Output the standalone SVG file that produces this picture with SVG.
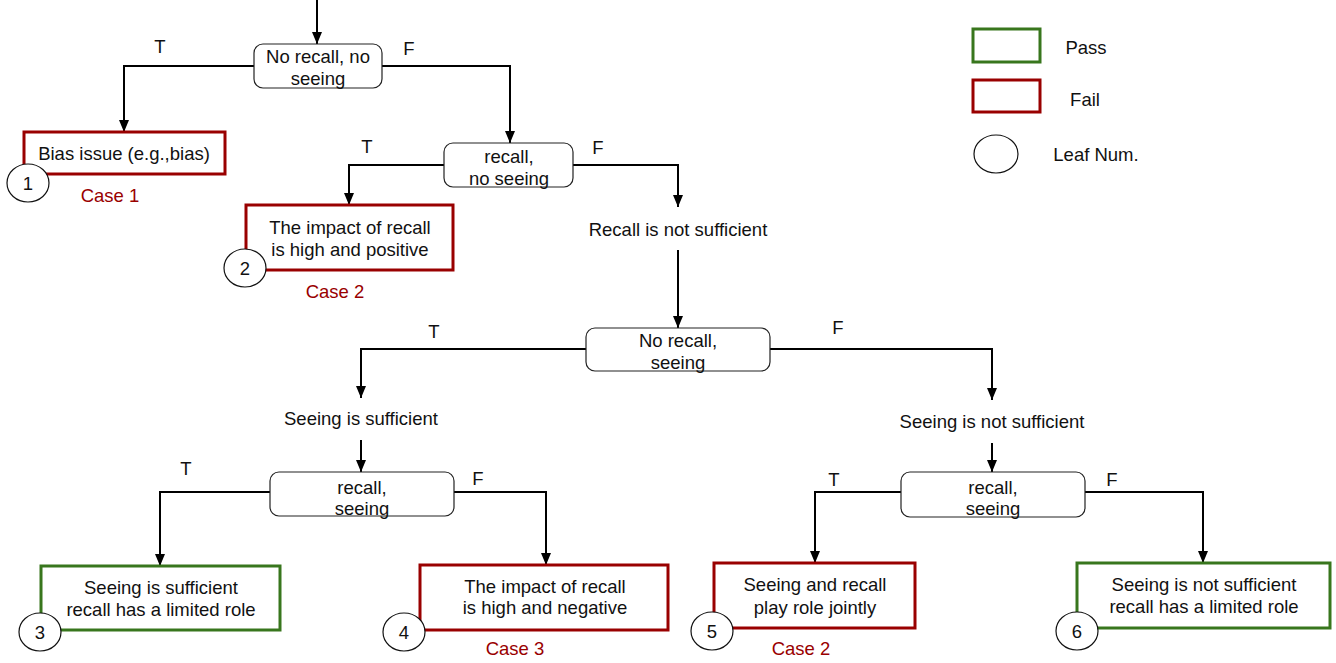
<svg xmlns="http://www.w3.org/2000/svg" width="1336" height="663" viewBox="0 0 1336 663">
<defs>
<marker id="ah" markerWidth="12" markerHeight="10" refX="12" refY="5" orient="auto" markerUnits="userSpaceOnUse" viewBox="0 0 12 10">
<path d="M0,0 L12,5 L0,10 Z" fill="#000"/>
</marker>
</defs>
<style>
text{font-family:"Liberation Sans",Arial,sans-serif;font-size:18.5px;fill:#111;text-anchor:middle;dominant-baseline:central}
.dec{fill:#fff;stroke:#222;stroke-width:1.2}
.fail{fill:#fff;stroke:#990000;stroke-width:3}
.pass{fill:#fff;stroke:#38761d;stroke-width:3}
.leaf{fill:#fff;stroke:#111;stroke-width:1.2}
.case{fill:#990000}
.conn{fill:none;stroke:#000;stroke-width:2}
</style>
<rect width="1336" height="663" fill="#fff"/>
<g id="connectors">
<path class="conn" d="M317,0 V44" marker-end="url(#ah)"/>
<path class="conn" d="M254,66 H124 V132" marker-end="url(#ah)"/>
<path class="conn" d="M382,66 H510 V143" marker-end="url(#ah)"/>
<path class="conn" d="M444,165 H349 V205" marker-end="url(#ah)"/>
<path class="conn" d="M573,165 H678 V207" marker-end="url(#ah)"/>
<path class="conn" d="M678,250 V328" marker-end="url(#ah)"/>
<path class="conn" d="M586,349 H361 V398" marker-end="url(#ah)"/>
<path class="conn" d="M770,349 H992 V400" marker-end="url(#ah)"/>
<path class="conn" d="M361,440 V472" marker-end="url(#ah)"/>
<path class="conn" d="M992,443 V472" marker-end="url(#ah)"/>
<path class="conn" d="M270,492 H160 V566" marker-end="url(#ah)"/>
<path class="conn" d="M454,492 H546 V565" marker-end="url(#ah)"/>
<path class="conn" d="M901,492 H815 V563" marker-end="url(#ah)"/>
<path class="conn" d="M1085,492 H1203 V563" marker-end="url(#ah)"/>
<text x="160" y="46">T</text>
<text x="409" y="48">F</text>
<text x="367" y="146">T</text>
<text x="598" y="147">F</text>
<text x="434" y="331">T</text>
<text x="838" y="327">F</text>
<text x="186" y="468">T</text>
<text x="478" y="478">F</text>
<text x="834" y="479">T</text>
<text x="1112" y="479">F</text>
</g>
<g id="n-root">
<rect class="dec" x="254" y="44" width="128" height="44" rx="9"/>
<text x="318" y="56">No recall, no</text>
<text x="318" y="78">seeing</text>
</g>
<g id="n-leaf1">
<rect class="fail" x="24" y="132" width="201" height="42"/>
<text x="124" y="153">Bias issue (e.g.,bias)</text>
<ellipse class="leaf" cx="28" cy="183" rx="21" ry="19"/>
<text x="28" y="183">1</text>
<text class="case" x="110" y="195">Case 1</text>
</g>
<g id="n-recall-noseeing">
<rect class="dec" x="444" y="143" width="129" height="44" rx="9"/>
<text x="509" y="156">recall,</text>
<text x="509" y="178">no seeing</text>
</g>
<g id="n-leaf2">
<rect class="fail" x="246" y="205" width="207" height="65"/>
<text x="350" y="227">The impact of recall</text>
<text x="350" y="249">is high and positive</text>
<ellipse class="leaf" cx="245" cy="268" rx="21" ry="19"/>
<text x="245" y="268">2</text>
<text class="case" x="335" y="291">Case 2</text>
</g>
<g id="n-recall-not-sufficient">
<text x="678" y="229">Recall is not sufficient</text>
</g>
<g id="n-norecall-seeing">
<rect class="dec" x="586" y="328" width="184" height="43" rx="9"/>
<text x="678" y="340">No recall,</text>
<text x="678" y="362">seeing</text>
</g>
<g id="n-seeing-sufficient">
<text x="361" y="418">Seeing is sufficient</text>
</g>
<g id="n-seeing-not-sufficient">
<text x="992" y="421">Seeing is not sufficient</text>
</g>
<g id="n-recall-seeing-left">
<rect class="dec" x="270" y="472" width="184" height="44" rx="9"/>
<text x="362" y="487">recall,</text>
<text x="362" y="508">seeing</text>
</g>
<g id="n-recall-seeing-right">
<rect class="dec" x="901" y="472" width="184" height="45" rx="9"/>
<text x="993" y="487">recall,</text>
<text x="993" y="508">seeing</text>
</g>
<g id="n-leaf3">
<rect class="pass" x="41" y="566" width="239" height="64"/>
<text x="161" y="587">Seeing is sufficient</text>
<text x="161" y="609">recall has a limited role</text>
<ellipse class="leaf" cx="40" cy="632" rx="21" ry="19"/>
<text x="40" y="632">3</text>
</g>
<g id="n-leaf4">
<rect class="fail" x="420" y="565" width="248" height="65"/>
<text x="545" y="586">The impact of recall</text>
<text x="545" y="607">is high and negative</text>
<ellipse class="leaf" cx="404" cy="632" rx="21" ry="19"/>
<text x="404" y="632">4</text>
<text class="case" x="515" y="648">Case 3</text>
</g>
<g id="n-leaf5">
<rect class="fail" x="714" y="563" width="201" height="65"/>
<text x="815" y="584">Seeing and recall</text>
<text x="815" y="607">play role jointly</text>
<ellipse class="leaf" cx="712" cy="631" rx="21" ry="19"/>
<text x="712" y="631">5</text>
<text class="case" x="801" y="648">Case 2</text>
</g>
<g id="n-leaf6">
<rect class="pass" x="1077" y="563" width="253" height="65"/>
<text x="1204" y="584">Seeing is not sufficient</text>
<text x="1204" y="606">recall has a limited role</text>
<ellipse class="leaf" cx="1077" cy="631" rx="21" ry="19"/>
<text x="1077" y="631">6</text>
</g>
<g id="legend">
<rect class="pass" x="973" y="29" width="67" height="33"/>
<text x="1086" y="47">Pass</text>
<rect class="fail" x="973" y="80" width="67" height="32"/>
<text x="1085" y="99">Fail</text>
<ellipse class="leaf" cx="996" cy="154" rx="22" ry="19"/>
<text x="1096" y="154">Leaf Num.</text>
</g>
</svg>
